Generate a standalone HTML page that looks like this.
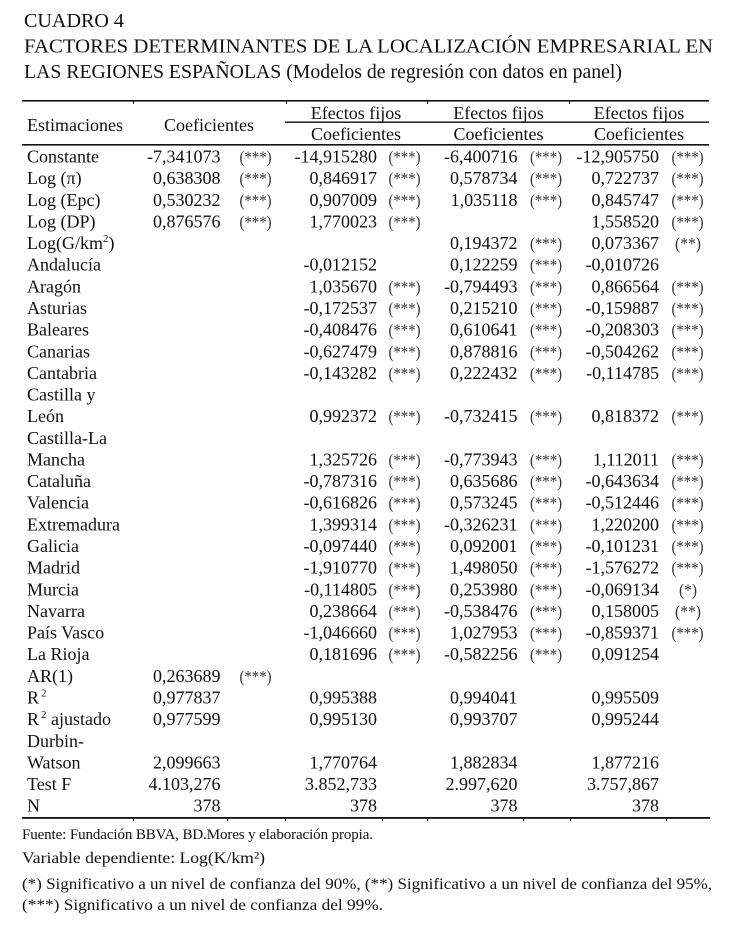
<!DOCTYPE html>
<html><head><meta charset="utf-8">
<style>
html,body{margin:0;padding:0;background:#fff;}
svg{display:block;}
text{font-family:"Liberation Serif",serif;fill:#111;}
.l{font-size:18px;}
.n{font-size:18px;text-anchor:end;}
.h{font-size:18px;text-anchor:middle;}
.s{font-size:17px;text-anchor:middle;fill:#333;}
.t{font-size:20.5px;}
.f{font-size:16px;}
.f1{font-size:15px;}
</style></head>
<body>
<svg width="740" height="930" viewBox="0 0 740 930" xmlns="http://www.w3.org/2000/svg">
<rect width="740" height="930" fill="#fff"/>
<!-- Title -->
<text class="t" x="24" y="27" textLength="100" lengthAdjust="spacingAndGlyphs">CUADRO 4</text>
<text class="t" x="24" y="52.5" textLength="689" lengthAdjust="spacingAndGlyphs">FACTORES DETERMINANTES DE LA LOCALIZACIÓN EMPRESARIAL EN</text>
<text class="t" x="24" y="78" textLength="598" lengthAdjust="spacingAndGlyphs">LAS REGIONES ESPAÑOLAS (Modelos de regresión con datos en panel)</text>

<!-- Rules -->
<rect x="22" y="100" width="687" height="1.6" fill="#111"/>
<rect x="133" y="101" width="1" height="3" fill="#111"/>
<rect x="286" y="101" width="1" height="3" fill="#111"/>
<rect x="427" y="101" width="1" height="3" fill="#111"/>
<rect x="569" y="101" width="1" height="3" fill="#111"/>
<rect x="285" y="121.5" width="424" height="1.4" fill="#111"/>
<rect x="22" y="144" width="687" height="1.6" fill="#111"/>
<rect x="22" y="817" width="688" height="1.8" fill="#111"/>
<rect x="133" y="818" width="1" height="3" fill="#111"/>
<rect x="227" y="818" width="1" height="3" fill="#111"/>
<rect x="285" y="818" width="1" height="3" fill="#111"/>
<rect x="382" y="818" width="1" height="3" fill="#111"/>
<rect x="427" y="818" width="1" height="3" fill="#111"/>
<rect x="523" y="818" width="1" height="3" fill="#111"/>
<rect x="570" y="818" width="1" height="3" fill="#111"/>
<rect x="666" y="818" width="1" height="3" fill="#111"/>

<!-- Header -->
<text class="l" x="27" y="131">Estimaciones</text>
<text class="h" x="209" y="131">Coeficientes</text>
<text class="h" x="356" y="119">Efectos fijos</text>
<text class="h" x="498.5" y="119">Efectos fijos</text>
<text class="h" x="639" y="119">Efectos fijos</text>
<text class="h" x="356" y="140">Coeficientes</text>
<text class="h" x="498.5" y="140">Coeficientes</text>
<text class="h" x="639" y="140">Coeficientes</text>

<!-- Row 0 Constante -->
<text class="l" x="27" y="162.5">Constante</text>
<text class="n" x="220.5" y="162.5">-7,341073</text><text class="s" x="255.5" y="162.5" textLength="32" lengthAdjust="spacingAndGlyphs">(***)</text>
<text class="n" x="377" y="162.5">-14,915280</text><text class="s" x="404.5" y="162.5" textLength="32" lengthAdjust="spacingAndGlyphs">(***)</text>
<text class="n" x="517.5" y="162.5">-6,400716</text><text class="s" x="546" y="162.5" textLength="32" lengthAdjust="spacingAndGlyphs">(***)</text>
<text class="n" x="659" y="162.5">-12,905750</text><text class="s" x="687.5" y="162.5" textLength="32" lengthAdjust="spacingAndGlyphs">(***)</text>

<!-- Row 1 -->
<text class="l" x="27" y="184.1">Log (π)</text>
<text class="n" x="220.5" y="184.1">0,638308</text><text class="s" x="255.5" y="184.1" textLength="32" lengthAdjust="spacingAndGlyphs">(***)</text>
<text class="n" x="377" y="184.1">0,846917</text><text class="s" x="404.5" y="184.1" textLength="32" lengthAdjust="spacingAndGlyphs">(***)</text>
<text class="n" x="517.5" y="184.1">0,578734</text><text class="s" x="546" y="184.1" textLength="32" lengthAdjust="spacingAndGlyphs">(***)</text>
<text class="n" x="659" y="184.1">0,722737</text><text class="s" x="687.5" y="184.1" textLength="32" lengthAdjust="spacingAndGlyphs">(***)</text>

<!-- Row 2 -->
<text class="l" x="27" y="205.8">Log (Epc)</text>
<text class="n" x="220.5" y="205.8">0,530232</text><text class="s" x="255.5" y="205.8" textLength="32" lengthAdjust="spacingAndGlyphs">(***)</text>
<text class="n" x="377" y="205.8">0,907009</text><text class="s" x="404.5" y="205.8" textLength="32" lengthAdjust="spacingAndGlyphs">(***)</text>
<text class="n" x="517.5" y="205.8">1,035118</text><text class="s" x="546" y="205.8" textLength="32" lengthAdjust="spacingAndGlyphs">(***)</text>
<text class="n" x="659" y="205.8">0,845747</text><text class="s" x="687.5" y="205.8" textLength="32" lengthAdjust="spacingAndGlyphs">(***)</text>

<!-- Row 3 -->
<text class="l" x="27" y="227.4">Log (DP)</text>
<text class="n" x="220.5" y="227.4">0,876576</text><text class="s" x="255.5" y="227.4" textLength="32" lengthAdjust="spacingAndGlyphs">(***)</text>
<text class="n" x="377" y="227.4">1,770023</text><text class="s" x="404.5" y="227.4" textLength="32" lengthAdjust="spacingAndGlyphs">(***)</text>
<text class="n" x="659" y="227.4">1,558520</text><text class="s" x="687.5" y="227.4" textLength="32" lengthAdjust="spacingAndGlyphs">(***)</text>

<!-- Row 4 -->
<text class="l" x="27" y="249.1">Log(G/km<tspan dy="-7" font-size="11">2</tspan><tspan dy="7">)</tspan></text>
<text class="n" x="517.5" y="249.1">0,194372</text><text class="s" x="546" y="249.1" textLength="32" lengthAdjust="spacingAndGlyphs">(***)</text>
<text class="n" x="659" y="249.1">0,073367</text><text class="s" x="688" y="249.1" textLength="26" lengthAdjust="spacingAndGlyphs">(**)</text>

<!-- Row 5 -->
<text class="l" x="27" y="270.7">Andalucía</text>
<text class="n" x="377" y="270.7">-0,012152</text>
<text class="n" x="517.5" y="270.7">0,122259</text><text class="s" x="546" y="270.7" textLength="32" lengthAdjust="spacingAndGlyphs">(***)</text>
<text class="n" x="659" y="270.7">-0,010726</text>

<!-- Row 6 -->
<text class="l" x="27" y="292.3">Aragón</text>
<text class="n" x="377" y="292.3">1,035670</text><text class="s" x="404.5" y="292.3" textLength="32" lengthAdjust="spacingAndGlyphs">(***)</text>
<text class="n" x="517.5" y="292.3">-0,794493</text><text class="s" x="546" y="292.3" textLength="32" lengthAdjust="spacingAndGlyphs">(***)</text>
<text class="n" x="659" y="292.3">0,866564</text><text class="s" x="687.5" y="292.3" textLength="32" lengthAdjust="spacingAndGlyphs">(***)</text>

<!-- Row 7 -->
<text class="l" x="27" y="314">Asturias</text>
<text class="n" x="377" y="314">-0,172537</text><text class="s" x="404.5" y="314" textLength="32" lengthAdjust="spacingAndGlyphs">(***)</text>
<text class="n" x="517.5" y="314">0,215210</text><text class="s" x="546" y="314" textLength="32" lengthAdjust="spacingAndGlyphs">(***)</text>
<text class="n" x="659" y="314">-0,159887</text><text class="s" x="687.5" y="314" textLength="32" lengthAdjust="spacingAndGlyphs">(***)</text>

<!-- Row 8 -->
<text class="l" x="27" y="335.6">Baleares</text>
<text class="n" x="377" y="335.6">-0,408476</text><text class="s" x="404.5" y="335.6" textLength="32" lengthAdjust="spacingAndGlyphs">(***)</text>
<text class="n" x="517.5" y="335.6">0,610641</text><text class="s" x="546" y="335.6" textLength="32" lengthAdjust="spacingAndGlyphs">(***)</text>
<text class="n" x="659" y="335.6">-0,208303</text><text class="s" x="687.5" y="335.6" textLength="32" lengthAdjust="spacingAndGlyphs">(***)</text>

<!-- Row 9 -->
<text class="l" x="27" y="357.3">Canarias</text>
<text class="n" x="377" y="357.3">-0,627479</text><text class="s" x="404.5" y="357.3" textLength="32" lengthAdjust="spacingAndGlyphs">(***)</text>
<text class="n" x="517.5" y="357.3">0,878816</text><text class="s" x="546" y="357.3" textLength="32" lengthAdjust="spacingAndGlyphs">(***)</text>
<text class="n" x="659" y="357.3">-0,504262</text><text class="s" x="687.5" y="357.3" textLength="32" lengthAdjust="spacingAndGlyphs">(***)</text>

<!-- Row 10 -->
<text class="l" x="27" y="378.9">Cantabria</text>
<text class="n" x="377" y="378.9">-0,143282</text><text class="s" x="404.5" y="378.9" textLength="32" lengthAdjust="spacingAndGlyphs">(***)</text>
<text class="n" x="517.5" y="378.9">0,222432</text><text class="s" x="546" y="378.9" textLength="32" lengthAdjust="spacingAndGlyphs">(***)</text>
<text class="n" x="659" y="378.9">-0,114785</text><text class="s" x="687.5" y="378.9" textLength="32" lengthAdjust="spacingAndGlyphs">(***)</text>

<!-- Row 11-12 -->
<text class="l" x="27" y="400.5">Castilla y</text>
<text class="l" x="27" y="422.2">León</text>
<text class="n" x="377" y="422.2">0,992372</text><text class="s" x="404.5" y="422.2" textLength="32" lengthAdjust="spacingAndGlyphs">(***)</text>
<text class="n" x="517.5" y="422.2">-0,732415</text><text class="s" x="546" y="422.2" textLength="32" lengthAdjust="spacingAndGlyphs">(***)</text>
<text class="n" x="659" y="422.2">0,818372</text><text class="s" x="687.5" y="422.2" textLength="32" lengthAdjust="spacingAndGlyphs">(***)</text>

<!-- Row 13-14 -->
<text class="l" x="27" y="443.8">Castilla-La</text>
<text class="l" x="27" y="465.5">Mancha</text>
<text class="n" x="377" y="465.5">1,325726</text><text class="s" x="404.5" y="465.5" textLength="32" lengthAdjust="spacingAndGlyphs">(***)</text>
<text class="n" x="517.5" y="465.5">-0,773943</text><text class="s" x="546" y="465.5" textLength="32" lengthAdjust="spacingAndGlyphs">(***)</text>
<text class="n" x="659" y="465.5">1,112011</text><text class="s" x="687.5" y="465.5" textLength="32" lengthAdjust="spacingAndGlyphs">(***)</text>

<!-- Row 15 -->
<text class="l" x="27" y="487.1">Cataluña</text>
<text class="n" x="377" y="487.1">-0,787316</text><text class="s" x="404.5" y="487.1" textLength="32" lengthAdjust="spacingAndGlyphs">(***)</text>
<text class="n" x="517.5" y="487.1">0,635686</text><text class="s" x="546" y="487.1" textLength="32" lengthAdjust="spacingAndGlyphs">(***)</text>
<text class="n" x="659" y="487.1">-0,643634</text><text class="s" x="687.5" y="487.1" textLength="32" lengthAdjust="spacingAndGlyphs">(***)</text>

<!-- Row 16 -->
<text class="l" x="27" y="508.7">Valencia</text>
<text class="n" x="377" y="508.7">-0,616826</text><text class="s" x="404.5" y="508.7" textLength="32" lengthAdjust="spacingAndGlyphs">(***)</text>
<text class="n" x="517.5" y="508.7">0,573245</text><text class="s" x="546" y="508.7" textLength="32" lengthAdjust="spacingAndGlyphs">(***)</text>
<text class="n" x="659" y="508.7">-0,512446</text><text class="s" x="687.5" y="508.7" textLength="32" lengthAdjust="spacingAndGlyphs">(***)</text>

<!-- Row 17 -->
<text class="l" x="27" y="530.4">Extremadura</text>
<text class="n" x="377" y="530.4">1,399314</text><text class="s" x="404.5" y="530.4" textLength="32" lengthAdjust="spacingAndGlyphs">(***)</text>
<text class="n" x="517.5" y="530.4">-0,326231</text><text class="s" x="546" y="530.4" textLength="32" lengthAdjust="spacingAndGlyphs">(***)</text>
<text class="n" x="659" y="530.4">1,220200</text><text class="s" x="687.5" y="530.4" textLength="32" lengthAdjust="spacingAndGlyphs">(***)</text>

<!-- Row 18 -->
<text class="l" x="27" y="552">Galicia</text>
<text class="n" x="377" y="552">-0,097440</text><text class="s" x="404.5" y="552" textLength="32" lengthAdjust="spacingAndGlyphs">(***)</text>
<text class="n" x="517.5" y="552">0,092001</text><text class="s" x="546" y="552" textLength="32" lengthAdjust="spacingAndGlyphs">(***)</text>
<text class="n" x="659" y="552">-0,101231</text><text class="s" x="687.5" y="552" textLength="32" lengthAdjust="spacingAndGlyphs">(***)</text>

<!-- Row 19 -->
<text class="l" x="27" y="573.7">Madrid</text>
<text class="n" x="377" y="573.7">-1,910770</text><text class="s" x="404.5" y="573.7" textLength="32" lengthAdjust="spacingAndGlyphs">(***)</text>
<text class="n" x="517.5" y="573.7">1,498050</text><text class="s" x="546" y="573.7" textLength="32" lengthAdjust="spacingAndGlyphs">(***)</text>
<text class="n" x="659" y="573.7">-1,576272</text><text class="s" x="687.5" y="573.7" textLength="32" lengthAdjust="spacingAndGlyphs">(***)</text>

<!-- Row 20 -->
<text class="l" x="27" y="595.3">Murcia</text>
<text class="n" x="377" y="595.3">-0,114805</text><text class="s" x="404.5" y="595.3" textLength="32" lengthAdjust="spacingAndGlyphs">(***)</text>
<text class="n" x="517.5" y="595.3">0,253980</text><text class="s" x="546" y="595.3" textLength="32" lengthAdjust="spacingAndGlyphs">(***)</text>
<text class="n" x="659" y="595.3">-0,069134</text><text class="s" x="688" y="595.3" textLength="18" lengthAdjust="spacingAndGlyphs">(*)</text>

<!-- Row 21 -->
<text class="l" x="27" y="616.9">Navarra</text>
<text class="n" x="377" y="616.9">0,238664</text><text class="s" x="404.5" y="616.9" textLength="32" lengthAdjust="spacingAndGlyphs">(***)</text>
<text class="n" x="517.5" y="616.9">-0,538476</text><text class="s" x="546" y="616.9" textLength="32" lengthAdjust="spacingAndGlyphs">(***)</text>
<text class="n" x="659" y="616.9">0,158005</text><text class="s" x="688" y="616.9" textLength="26" lengthAdjust="spacingAndGlyphs">(**)</text>

<!-- Row 22 -->
<text class="l" x="27" y="638.6">País Vasco</text>
<text class="n" x="377" y="638.6">-1,046660</text><text class="s" x="404.5" y="638.6" textLength="32" lengthAdjust="spacingAndGlyphs">(***)</text>
<text class="n" x="517.5" y="638.6">1,027953</text><text class="s" x="546" y="638.6" textLength="32" lengthAdjust="spacingAndGlyphs">(***)</text>
<text class="n" x="659" y="638.6">-0,859371</text><text class="s" x="687.5" y="638.6" textLength="32" lengthAdjust="spacingAndGlyphs">(***)</text>

<!-- Row 23 -->
<text class="l" x="27" y="660.2">La Rioja</text>
<text class="n" x="377" y="660.2">0,181696</text><text class="s" x="404.5" y="660.2" textLength="32" lengthAdjust="spacingAndGlyphs">(***)</text>
<text class="n" x="517.5" y="660.2">-0,582256</text><text class="s" x="546" y="660.2" textLength="32" lengthAdjust="spacingAndGlyphs">(***)</text>
<text class="n" x="659" y="660.2">0,091254</text>

<!-- Row 24 -->
<text class="l" x="27" y="681.9">AR(1)</text>
<text class="n" x="220.5" y="681.9">0,263689</text><text class="s" x="255.5" y="681.9" textLength="32" lengthAdjust="spacingAndGlyphs">(***)</text>

<!-- Row 25 -->
<text class="l" x="27" y="703.5">R<tspan dx="2" dy="-7" font-size="11">2</tspan></text>
<text class="n" x="220.5" y="703.5">0,977837</text>
<text class="n" x="377" y="703.5">0,995388</text>
<text class="n" x="517.5" y="703.5">0,994041</text>
<text class="n" x="659" y="703.5">0,995509</text>

<!-- Row 26 -->
<text class="l" x="27" y="725.1">R<tspan dx="2" dy="-7" font-size="11">2</tspan><tspan dy="7"> ajustado</tspan></text>
<text class="n" x="220.5" y="725.1">0,977599</text>
<text class="n" x="377" y="725.1">0,995130</text>
<text class="n" x="517.5" y="725.1">0,993707</text>
<text class="n" x="659" y="725.1">0,995244</text>

<!-- Row 27-28 -->
<text class="l" x="27" y="746.8">Durbin-</text>
<text class="l" x="27" y="768.4">Watson</text>
<text class="n" x="220.5" y="768.4">2,099663</text>
<text class="n" x="377" y="768.4">1,770764</text>
<text class="n" x="517.5" y="768.4">1,882834</text>
<text class="n" x="659" y="768.4">1,877216</text>

<!-- Row 29 -->
<text class="l" x="27" y="790.1">Test F</text>
<text class="n" x="220.5" y="790.1">4.103,276</text>
<text class="n" x="377" y="790.1">3.852,733</text>
<text class="n" x="517.5" y="790.1">2.997,620</text>
<text class="n" x="659" y="790.1">3.757,867</text>

<!-- Row 30 -->
<text class="l" x="27" y="811.7">N</text>
<text class="n" x="220.5" y="811.7">378</text>
<text class="n" x="377" y="811.7">378</text>
<text class="n" x="517.5" y="811.7">378</text>
<text class="n" x="659" y="811.7">378</text>

<!-- Footer -->
<text class="f1" x="22" y="839" textLength="351" lengthAdjust="spacing">Fuente: Fundación BBVA, BD.Mores y elaboración propia.</text>
<text class="f" x="22" y="863" textLength="243" lengthAdjust="spacingAndGlyphs">Variable dependiente: Log(K/km²)</text>
<text class="f" x="22" y="889" textLength="690" lengthAdjust="spacingAndGlyphs">(*) Significativo a un nivel de confianza del 90%, (**) Significativo a un nivel de confianza del 95%,</text>
<text class="f" x="22" y="910" textLength="361" lengthAdjust="spacingAndGlyphs">(***) Significativo a un nivel de confianza del 99%.</text>
</svg>
</body></html>
